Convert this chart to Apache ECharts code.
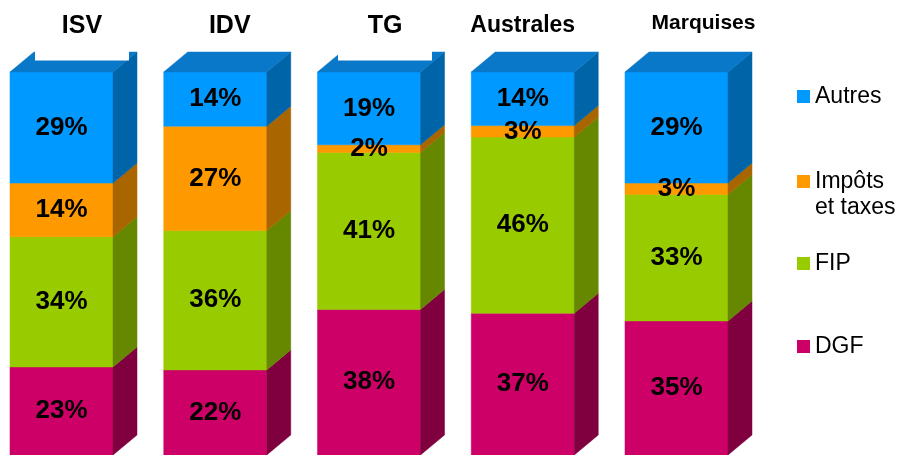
<!DOCTYPE html>
<html>
<head>
<meta charset="utf-8">
<script src="https://cdn.jsdelivr.net/npm/echarts@6/dist/echarts.min.js"></script>
<style>
  html, body { margin: 0; padding: 0; background: #fff; }
  #chart { width: 899px; height: 455px; }
</style>
</head>
<body>
<div id="chart"></div>
<script>
// données (en %), empilées de bas en haut : DGF, FIP, Impôts et taxes, Autres
const categories = ['ISV', 'IDV', 'TG', 'Australes', 'Marquises'];
const dgf = [23, 22, 38, 37, 35];
const fip = [34, 36, 41, 46, 33];
const impots = [14, 27, 2, 3, 3];
const autres = [29, 14, 19, 14, 29];

const FONT = '"Liberation Sans", Arial, sans-serif';
const DX = 24, DY = -20; // profondeur 3D

const layers = [
  { name: 'DGF', values: dgf, front: '#cc0066', side: '#80003f', top: '#a00050' },
  { name: 'FIP', values: fip, front: '#99cc00', side: '#668800', top: '#7aa300' },
  { name: 'Impôts et taxes', values: impots, front: '#ff9900', side: '#a86500', top: '#cc7a00' },
  { name: 'Autres', values: autres, front: '#0099ff', side: '#0064a8', top: '#0a78c8' },
];

// cumul normalisé à 100 %
const totals = categories.map((_, i) => layers.reduce((s, l) => s + l.values[i], 0));
const cum = categories.map(() => 0);
const seriesData = layers.map((l, li) => l.values.map((v, i) => {
  const start = cum[i] / totals[i] * 100;
  cum[i] += v;
  const end = cum[i] / totals[i] * 100;
  return [i, start, end, v, li === layers.length - 1 ? 1 : 0];
}));

function makeRender(layer) {
  return function (params, api) {
    const i = api.value(0);
    const p0 = api.coord([i, api.value(1)]);
    const p1 = api.coord([i, api.value(2)]);
    const step = api.coord([1, 0])[0] - api.coord([0, 0])[0];
    const w = step * 0.67;
    const x0 = p0[0] - w / 2;
    const x1 = x0 + w;
    const yb = p0[1];
    const yt = p1[1];
    const children = [
      {
        type: 'rect',
        shape: { x: x0, y: yt, width: w, height: yb - yt },
        style: { fill: layer.front, stroke: layer.front, lineWidth: 0.5 },
      },
      {
        type: 'polygon',
        shape: { points: [[x1, yt], [x1 + DX, yt + DY], [x1 + DX, yb + DY], [x1, yb]] },
        style: { fill: layer.side, stroke: layer.side, lineWidth: 0.5 },
      },
    ];
    if (api.value(4)) {
      children.push({
        type: 'polygon',
        shape: { points: [[x0, yt], [x0 + DX, yt + DY], [x1 + DX, yt + DY], [x1, yt]] },
        style: { fill: layer.top, stroke: layer.top, lineWidth: 0.5 },
      });
    }
    children.push({
      type: 'text',
      z2: 50,
      style: {
        text: api.value(3) + '%',
        x: (x0 + x1) / 2,
        y: (yt + yb) / 2,
        align: 'center',
        verticalAlign: 'middle',
        font: 'bold 26px ' + FONT,
        fill: '#000',
      },
    });
    return { type: 'group', children };
  };
}

// décalages horizontaux des titres
const titleGap = [41, 29, 32, 0, 54];
const titleStyle = ['box', 'big', 'box', 'mid', 'small'];

const legendTops = [83.5, 142.5, 250.5, 333.5];
const legendOrder = ['Autres', 'Impôts et taxes', 'FIP', 'DGF'];

const chart = echarts.init(document.getElementById('chart'));
chart.setOption({
  animation: false,
  backgroundColor: '#fff',
  grid: { left: 61.5, width: 615, top: 72, bottom: 0, containLabel: false },
  xAxis: {
    type: 'category',
    data: categories,
    boundaryGap: false,
    position: 'top',
    z: 10,
    axisLine: { show: false },
    axisTick: { show: false },
    splitLine: { show: false },
    axisLabel: {
      interval: 0,
      margin: 20,
      formatter: (value, idx) => `{g${idx}|}{${titleStyle[idx]}|${value}}`,
      rich: {
        g0: { width: titleGap[0] },
        g1: { width: titleGap[1] },
        g2: { width: titleGap[2] },
        g3: { width: titleGap[3] },
        g4: { width: titleGap[4] },
        box: {
          fontFamily: FONT, fontSize: 25, fontWeight: 'bold', color: '#000',
          width: 94, align: 'center', lineHeight: 30, padding: [0, 0, 22, 0],
          backgroundColor: '#fff',
        },
        big: {
          fontFamily: FONT, fontSize: 25, fontWeight: 'bold', color: '#000',
          lineHeight: 30, padding: [0, 0, 22, 0],
        },
        mid: {
          fontFamily: FONT, fontSize: 23, fontWeight: 'bold', color: '#000',
          lineHeight: 30, padding: [0, 0, 23, 0],
        },
        small: {
          fontFamily: FONT, fontSize: 21, fontWeight: 'bold', color: '#000',
          lineHeight: 30, padding: [0, 0, 28, 0],
        },
      },
    },
  },
  yAxis: { type: 'value', min: 0, max: 100, show: false },
  legend: legendOrder.map((name, k) => ({
    data: [name],
    orient: 'vertical',
    left: 797,
    top: legendTops[k],
    padding: 0,
    icon: 'rect',
    itemWidth: 13,
    itemHeight: 13,
    selectedMode: false,
    formatter: n => (n === 'Impôts et taxes' ? '\nImpôts\net taxes' : n),
    textStyle: {
      fontFamily: FONT,
      fontSize: 23,
      lineHeight: 26,
      color: '#000',
    },
  })),
  series: layers.map((l, li) => ({
    type: 'custom',
    name: l.name,
    itemStyle: { color: l.front },
    renderItem: makeRender(l),
    encode: { x: 0, y: [1, 2] },
    data: seriesData[li],
  })),
});
</script>
</body>
</html>
